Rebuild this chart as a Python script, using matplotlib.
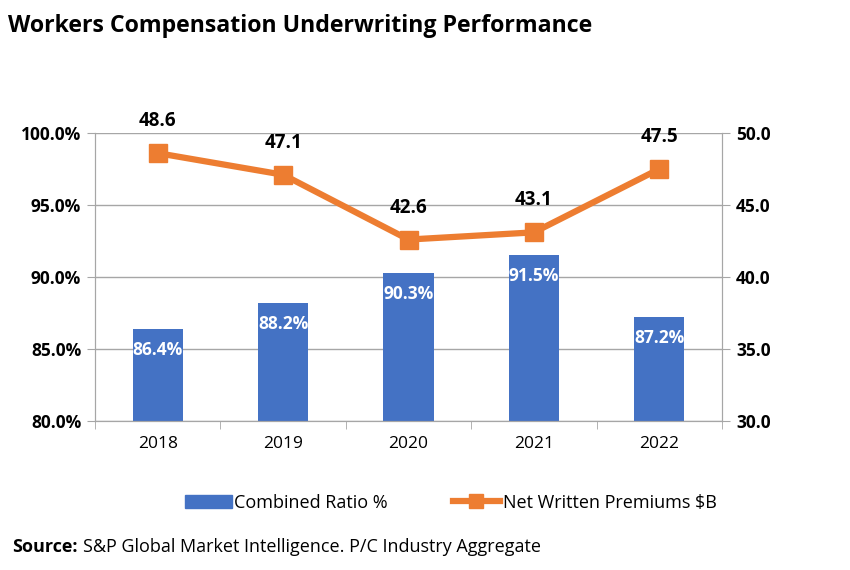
import numpy as np
import matplotlib.pyplot as plt
from matplotlib.lines import Line2D
from matplotlib.patches import Patch

years = ['2018', '2019', '2020', '2021', '2022']
combined_ratio = [86.4, 88.2, 90.3, 91.5, 87.2]
net_premiums = [48.6, 47.1, 42.6, 43.1, 47.5]

blue = '#4472C4'
orange = '#ED7D31'
grid_gray = '#A6A6A6'

plt.rcParams['font.family'] = ['Open Sans', 'DejaVu Sans']

fig = plt.figure(figsize=(8.5, 5.7), dpi=100)
ax = fig.add_axes([0.1118, 0.2614, 0.7376, 0.5053])
ax2 = ax.twinx()

# bars: combined ratio on the left axis
x = np.arange(len(years))
ax.bar(x, combined_ratio, width=0.4, color=blue, zorder=2)
ax.set_ylim(80, 100)
ax.set_xlim(-0.5, len(years) - 0.5)
ax.set_yticks(np.arange(80, 100.1, 5))
ax.set_yticklabels([f'{v:.1f}%' for v in np.arange(80, 100.1, 5)],
                   fontsize=12.5, fontweight='bold')
ax.yaxis.grid(True, color=grid_gray, linewidth=1)
ax.set_axisbelow(True)
ax.set_xticks(x)
ax.set_xticklabels(years, fontsize=12.5)
ax.set_xticks(np.arange(-0.5, len(years) - 0.4, 1), minor=True)
ax.tick_params(axis='x', which='major', length=0, pad=11)
ax.tick_params(axis='x', which='minor', length=6, color=grid_gray)
ax.tick_params(axis='y', length=6, color=grid_gray, pad=4)

for xi, v in zip(x, combined_ratio):
    ax.annotate(f'{v:.1f}%', (xi, v), xytext=(0, -15), textcoords='offset points',
                ha='center', va='center', color='white', fontsize=12.5,
                fontweight='bold', zorder=3)

# line: net written premiums on the right axis
ax2.plot(x, net_premiums, color=orange, linewidth=4.5, marker='s',
         markersize=13, zorder=4)
ax2.set_ylim(30, 50)
ax2.set_yticks(np.arange(30, 50.1, 5))
ax2.set_yticklabels([f'{v:.1f}' for v in np.arange(30, 50.1, 5)],
                    fontsize=12.5, fontweight='bold')
ax2.tick_params(axis='y', length=6, color=grid_gray, pad=4)

for xi, v in zip(x, net_premiums):
    ax2.annotate(f'{v:.1f}', (xi, v), xytext=(0, 23), textcoords='offset points',
                 ha='center', va='center', color='black', fontsize=13.5,
                 fontweight='bold')

for a in (ax, ax2):
    a.spines['top'].set_visible(False)
    for s in ('left', 'right', 'bottom'):
        a.spines[s].set_color(grid_gray)

fig.text(0.009, 0.955, 'Workers Compensation Underwriting Performance',
         fontsize=16.7, fontweight='bold', va='center')

handles = [Patch(color=blue, label='Combined Ratio %'),
           Line2D([0], [0], color=orange, linewidth=4.5, marker='s',
                  markersize=10, label='Net Written Premiums $B')]
fig.legend(handles=handles, loc='center', bbox_to_anchor=(0.53, 0.118),
           ncol=2, frameon=False, fontsize=13, handlelength=2.6,
           columnspacing=3.6, handletextpad=0.15)

src = fig.text(0.014, 0.04, 'Source:', fontsize=13, fontweight='bold', va='center')
fig.add_artist(plt.Annotation('S&P Global Market Intelligence. P/C Industry Aggregate',
                              xy=(1, 0.5), xycoords=src, xytext=(4, 0),
                              textcoords='offset points', va='center',
                              fontsize=13))

fig.savefig('out.png', dpi=100)
